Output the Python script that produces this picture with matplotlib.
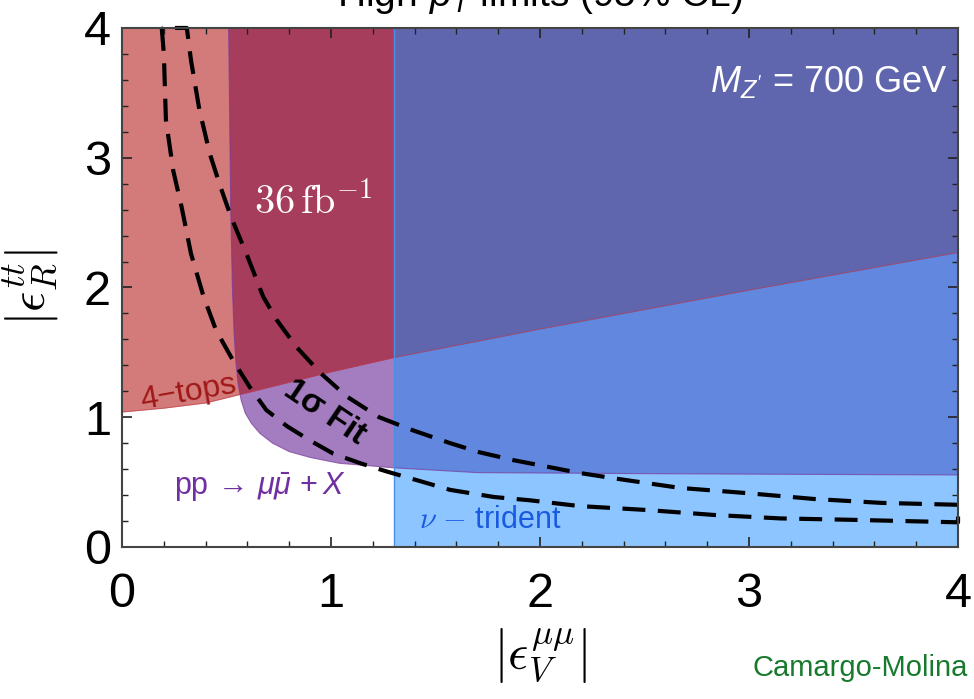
import numpy as np
import matplotlib
matplotlib.use('Agg')
import matplotlib.pyplot as plt
from matplotlib.patches import Polygon
from matplotlib.ticker import MultipleLocator

plt.rcParams['font.family'] = ['Liberation Sans', 'DejaVu Sans']
plt.rcParams['mathtext.fontset'] = 'cm'
plt.rcParams['mathtext.rm'] = 'Liberation Sans'
plt.rcParams['mathtext.it'] = 'Liberation Sans:italic'
plt.rcParams['mathtext.bf'] = 'Liberation Sans:bold'

# 4-tops exclusion: everything above this curve
tops_x = [0.0, 0.2, 0.4, 0.6, 0.8, 1.0, 1.3, 2.0, 3.0, 4.0]
tops_y = [1.04, 1.07, 1.11, 1.19, 1.27, 1.35, 1.46, 1.68, 1.98, 2.27]

# pp -> mu mu + X (36 fb^-1) exclusion boundary, from top edge down to the right
dimu_x = [0.51, 0.52, 0.528, 0.536, 0.545, 0.555, 0.57, 0.59, 0.62, 0.66, 0.72, 0.80, 0.90,
          1.04, 1.3, 1.7, 2.5, 3.2, 4.0]
dimu_y = [4.0, 2.6, 2.0, 1.65, 1.42, 1.26, 1.13, 1.03, 0.95, 0.875, 0.80, 0.735, 0.69,
          0.645, 0.61, 0.573, 0.565, 0.56, 0.555]

# nu-trident: excluded for |eps_V| above this value
trident_x = 1.3

# 1 sigma fit band (inner and outer dashed contour)
fit_in_x = [0.19, 0.20, 0.21, 0.245, 0.285, 0.33, 0.39, 0.45, 0.53, 0.61, 0.69, 0.79, 0.90,
            1.01, 1.14, 1.27, 1.41, 1.57, 1.78, 1.95, 2.19, 2.51, 2.83, 3.15, 3.47, 4.0]
fit_in_y = [4.0, 3.8, 3.29, 2.9, 2.62, 2.26, 1.93, 1.67, 1.44, 1.235, 1.056, 0.93, 0.82,
            0.72, 0.645, 0.58, 0.515, 0.44, 0.385, 0.36, 0.315, 0.285, 0.247, 0.22, 0.21, 0.19]
fit_out_x = [0.31, 0.33, 0.37, 0.42, 0.47, 0.52, 0.60, 0.675, 0.74, 0.835, 0.95, 1.075, 1.23,
             1.39, 1.57, 1.71, 1.87, 2.03, 2.19, 2.35, 2.67, 2.99, 3.31, 3.63, 4.0]
fit_out_y = [4.0, 3.75, 3.37, 3.03, 2.78, 2.55, 2.24, 1.93, 1.75, 1.54, 1.34, 1.16, 1.0,
             0.9, 0.8, 0.73, 0.67, 0.62, 0.57, 0.53, 0.455, 0.415, 0.37, 0.34, 0.325]

c_tops = '#D37B7B'
c_dimu = '#A47DC0'
c_both = '#A63D5C'
c_tri = '#8CC5FF'
c_tri_dimu = '#6287DE'
c_all = '#6066AE'

fig = plt.figure(figsize=(9.74, 6.99), dpi=100)
ax = fig.add_axes([0.1253, 0.2175, 0.8583, 0.7425])
ax.set_xlim(0, 4)
ax.set_ylim(0, 4)

# base regions
ax.fill_between(tops_x, tops_y, 4, color=c_tops, lw=0, zorder=1)
dimu_xy = list(zip(dimu_x, dimu_y)) + [(4, 4)]
dimu_patch = Polygon(dimu_xy, closed=True, fc=c_dimu, ec='none', zorder=1.1)
ax.add_patch(dimu_patch)
both = ax.fill_between(tops_x, tops_y, 4, color=c_both, lw=0, zorder=1.2)
both.set_clip_path(dimu_patch)

# trident and overlaps
tri = ax.axvspan(trident_x, 4, color=c_tri, lw=0, zorder=1.3)
tri_dimu = Polygon(dimu_xy, closed=True, fc=c_tri_dimu, ec='none', zorder=1.4)
ax.add_patch(tri_dimu)
tri_dimu.set_clip_path(tri)
tri_all = ax.fill_between(tops_x, tops_y, 4, color=c_all, lw=0, zorder=1.5)
tri_all.set_clip_path(tri)

# region edges
ax.plot(tops_x, tops_y, color='#C03A4A', lw=0.7, alpha=0.6, zorder=2)
ax.plot(dimu_x, dimu_y, color='#7A3A9A', lw=0.8, alpha=0.7, zorder=2)
ax.axvline(trident_x, color='#4A8FE8', lw=1.0, zorder=2)

# 1 sigma fit contour (closed along the top and right edges)
cx = fit_in_x + fit_out_x[::-1] + [fit_in_x[0]]
cy = fit_in_y + fit_out_y[::-1] + [fit_in_y[0]]
ax.plot(cx, cy, color='black', lw=3.0, ls=(0, (5.5, 3)), clip_on=False, zorder=3)

# annotations
ax.text(0.318, 1.185, '4\u2212tops', color='#A01818', fontsize=23, rotation=10,
        ha='center', va='center', zorder=4)
ax.text(0.97, 1.04, '1\u03c3 Fit', color='black', fontsize=24, fontweight='bold',
        rotation=-34, ha='center', va='center', zorder=4)
ax.text(0.66, 0.465, r'pp$\,\rightarrow\,\mu\bar{\mu}\,+X$', color='#7030A0', fontsize=22,
        ha='center', va='center', math_fontfamily='custom', zorder=4)
ax.text(1.76, 0.21, r'$\nu$ $-$ trident', color='#1A5AE0', fontsize=22,
        ha='center', va='center', math_fontfamily='cm', zorder=4)
ax.text(0.915, 2.66, r'$36\,\mathrm{fb}^{-1}$', color='white', fontsize=29,
        ha='center', va='center', zorder=4)
ax.text(3.95, 3.58, r"$M_{Z'}$ = 700 GeV", color='white', fontsize=26,
        ha='right', va='center', math_fontfamily='custom', zorder=4)

# axes styling
for s in ax.spines.values():
    s.set_color('#444444')
    s.set_linewidth(1.5)
    s.set_zorder(5)
ax.xaxis.set_major_locator(MultipleLocator(1))
ax.xaxis.set_minor_locator(MultipleLocator(0.2))
ax.yaxis.set_major_locator(MultipleLocator(1))
ax.yaxis.set_minor_locator(MultipleLocator(0.2))
ax.tick_params(which='both', direction='in', top=True, right=True, color='#222222')
ax.tick_params(which='major', length=7.5, width=1.2, labelsize=35)
ax.tick_params(which='minor', length=4.5, width=1.0)
ax.tick_params(axis='x', which='major', pad=18)
ax.tick_params(axis='y', which='major', pad=8)

ax.set_xlabel(r'$\left|\epsilon_V^{\mu\mu}\right|$', fontsize=36, va='center')
ax.xaxis.set_label_coords(0.5, -0.21)
ax.set_ylabel(r'$\left|\epsilon_R^{tt}\right|$', fontsize=36, va='center')
ax.yaxis.set_label_coords(-0.108, 0.5)

fig.text(0.554, 1 - 6 / 699, r'High-$p_T$ limits (95% CL)', fontsize=28,
         ha='center', va='baseline', math_fontfamily='custom')
fig.text(0.994, 0.044, 'Camargo-Molina', color='#177A2C', fontsize=21,
         ha='right', va='center')

fig.savefig('out.png', dpi=100)
